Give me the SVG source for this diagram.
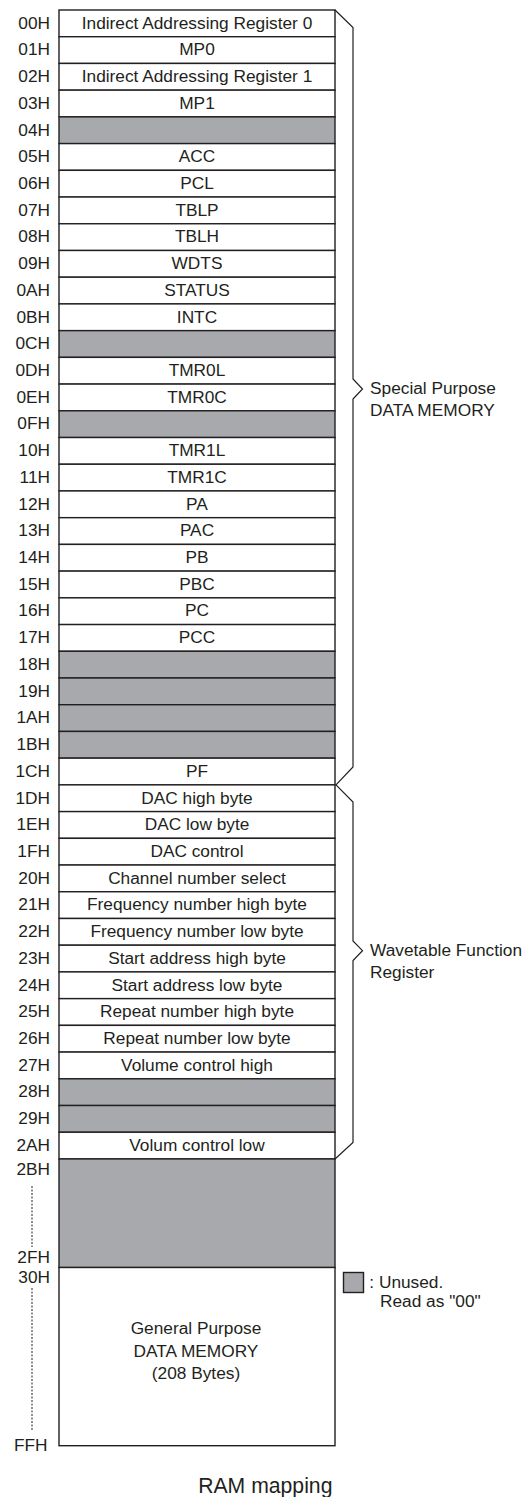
<svg xmlns="http://www.w3.org/2000/svg" width="524" height="1497" viewBox="0 0 524 1497">
<style>
text{font-family:"Liberation Sans",Arial,sans-serif;font-size:17.3px;fill:#231f20}
.c{text-anchor:middle}
.a{text-anchor:end}
.w{fill:#fff;stroke:#231f20;stroke-width:1.4}
.g{fill:#a7a9ac;stroke:#231f20;stroke-width:1.4}
.br{fill:none;stroke:#231f20;stroke-width:1.2;stroke-linejoin:miter}
.dot{stroke:#231f20;stroke-width:1;stroke-dasharray:2,1.5}
.cap{font-size:21.2px}
</style>
<rect width="524" height="1497" fill="#fff"/>
<g id="r00"><rect class="w" x="59" y="10" width="276" height="26.72"/><text class="a" x="50" y="28.6">00H</text><text class="c" x="197" y="28.6">Indirect Addressing Register 0</text></g>
<g id="r01"><rect class="w" x="59" y="36.72" width="276" height="26.72"/><text class="a" x="50" y="55.3">01H</text><text class="c" x="197" y="55.3">MP0</text></g>
<g id="r02"><rect class="w" x="59" y="63.44" width="276" height="26.72"/><text class="a" x="50" y="82.0">02H</text><text class="c" x="197" y="82.0">Indirect Addressing Register 1</text></g>
<g id="r03"><rect class="w" x="59" y="90.16" width="276" height="26.72"/><text class="a" x="50" y="108.8">03H</text><text class="c" x="197" y="108.8">MP1</text></g>
<g id="r04"><rect class="g" x="59" y="116.88" width="276" height="26.72"/><text class="a" x="50" y="135.5">04H</text></g>
<g id="r05"><rect class="w" x="59" y="143.6" width="276" height="26.72"/><text class="a" x="50" y="162.2">05H</text><text class="c" x="197" y="162.2">ACC</text></g>
<g id="r06"><rect class="w" x="59" y="170.32" width="276" height="26.72"/><text class="a" x="50" y="188.9">06H</text><text class="c" x="197" y="188.9">PCL</text></g>
<g id="r07"><rect class="w" x="59" y="197.04" width="276" height="26.72"/><text class="a" x="50" y="215.6">07H</text><text class="c" x="197" y="215.6">TBLP</text></g>
<g id="r08"><rect class="w" x="59" y="223.76" width="276" height="26.72"/><text class="a" x="50" y="242.4">08H</text><text class="c" x="197" y="242.4">TBLH</text></g>
<g id="r09"><rect class="w" x="59" y="250.48" width="276" height="26.72"/><text class="a" x="50" y="269.1">09H</text><text class="c" x="197" y="269.1">WDTS</text></g>
<g id="r0A"><rect class="w" x="59" y="277.2" width="276" height="26.72"/><text class="a" x="50" y="295.8">0AH</text><text class="c" x="197" y="295.8">STATUS</text></g>
<g id="r0B"><rect class="w" x="59" y="303.92" width="276" height="26.72"/><text class="a" x="50" y="322.5">0BH</text><text class="c" x="197" y="322.5">INTC</text></g>
<g id="r0C"><rect class="g" x="59" y="330.64" width="276" height="26.72"/><text class="a" x="50" y="349.2">0CH</text></g>
<g id="r0D"><rect class="w" x="59" y="357.36" width="276" height="26.72"/><text class="a" x="50" y="376.0">0DH</text><text class="c" x="197" y="376.0">TMR0L</text></g>
<g id="r0E"><rect class="w" x="59" y="384.08" width="276" height="26.72"/><text class="a" x="50" y="402.7">0EH</text><text class="c" x="197" y="402.7">TMR0C</text></g>
<g id="r0F"><rect class="g" x="59" y="410.8" width="276" height="26.72"/><text class="a" x="50" y="429.4">0FH</text></g>
<g id="r10"><rect class="w" x="59" y="437.52" width="276" height="26.72"/><text class="a" x="50" y="456.1">10H</text><text class="c" x="197" y="456.1">TMR1L</text></g>
<g id="r11"><rect class="w" x="59" y="464.24" width="276" height="26.72"/><text class="a" x="50" y="482.8">11H</text><text class="c" x="197" y="482.8">TMR1C</text></g>
<g id="r12"><rect class="w" x="59" y="490.96" width="276" height="26.72"/><text class="a" x="50" y="509.6">12H</text><text class="c" x="197" y="509.6">PA</text></g>
<g id="r13"><rect class="w" x="59" y="517.68" width="276" height="26.72"/><text class="a" x="50" y="536.3">13H</text><text class="c" x="197" y="536.3">PAC</text></g>
<g id="r14"><rect class="w" x="59" y="544.4" width="276" height="26.72"/><text class="a" x="50" y="563.0">14H</text><text class="c" x="197" y="563.0">PB</text></g>
<g id="r15"><rect class="w" x="59" y="571.12" width="276" height="26.72"/><text class="a" x="50" y="589.7">15H</text><text class="c" x="197" y="589.7">PBC</text></g>
<g id="r16"><rect class="w" x="59" y="597.84" width="276" height="26.72"/><text class="a" x="50" y="616.4">16H</text><text class="c" x="197" y="616.4">PC</text></g>
<g id="r17"><rect class="w" x="59" y="624.56" width="276" height="26.72"/><text class="a" x="50" y="643.2">17H</text><text class="c" x="197" y="643.2">PCC</text></g>
<g id="r18"><rect class="g" x="59" y="651.28" width="276" height="26.72"/><text class="a" x="50" y="669.9">18H</text></g>
<g id="r19"><rect class="g" x="59" y="678" width="276" height="26.72"/><text class="a" x="50" y="696.6">19H</text></g>
<g id="r1A"><rect class="g" x="59" y="704.72" width="276" height="26.72"/><text class="a" x="50" y="723.3">1AH</text></g>
<g id="r1B"><rect class="g" x="59" y="731.44" width="276" height="26.72"/><text class="a" x="50" y="750.0">1BH</text></g>
<g id="r1C"><rect class="w" x="59" y="758.16" width="276" height="26.72"/><text class="a" x="50" y="776.8">1CH</text><text class="c" x="197" y="776.8">PF</text></g>
<g id="r1D"><rect class="w" x="59" y="784.88" width="276" height="26.72"/><text class="a" x="50" y="803.5">1DH</text><text class="c" x="197" y="803.5">DAC high byte</text></g>
<g id="r1E"><rect class="w" x="59" y="811.6" width="276" height="26.72"/><text class="a" x="50" y="830.2">1EH</text><text class="c" x="197" y="830.2">DAC low byte</text></g>
<g id="r1F"><rect class="w" x="59" y="838.32" width="276" height="26.72"/><text class="a" x="50" y="856.9">1FH</text><text class="c" x="197" y="856.9">DAC control</text></g>
<g id="r20"><rect class="w" x="59" y="865.04" width="276" height="26.72"/><text class="a" x="50" y="883.6">20H</text><text class="c" x="197" y="883.6">Channel number select</text></g>
<g id="r21"><rect class="w" x="59" y="891.76" width="276" height="26.72"/><text class="a" x="50" y="910.4">21H</text><text class="c" x="197" y="910.4">Frequency number high byte</text></g>
<g id="r22"><rect class="w" x="59" y="918.48" width="276" height="26.72"/><text class="a" x="50" y="937.1">22H</text><text class="c" x="197" y="937.1">Frequency number low byte</text></g>
<g id="r23"><rect class="w" x="59" y="945.2" width="276" height="26.72"/><text class="a" x="50" y="963.8">23H</text><text class="c" x="197" y="963.8">Start address high byte</text></g>
<g id="r24"><rect class="w" x="59" y="971.92" width="276" height="26.72"/><text class="a" x="50" y="990.5">24H</text><text class="c" x="197" y="990.5">Start address low byte</text></g>
<g id="r25"><rect class="w" x="59" y="998.64" width="276" height="26.72"/><text class="a" x="50" y="1017.2">25H</text><text class="c" x="197" y="1017.2">Repeat number high byte</text></g>
<g id="r26"><rect class="w" x="59" y="1025.36" width="276" height="26.72"/><text class="a" x="50" y="1044.0">26H</text><text class="c" x="197" y="1044.0">Repeat number low byte</text></g>
<g id="r27"><rect class="w" x="59" y="1052.08" width="276" height="26.72"/><text class="a" x="50" y="1070.7">27H</text><text class="c" x="197" y="1070.7">Volume control high</text></g>
<g id="r28"><rect class="g" x="59" y="1078.8" width="276" height="26.72"/><text class="a" x="50" y="1097.4">28H</text></g>
<g id="r29"><rect class="g" x="59" y="1105.52" width="276" height="26.72"/><text class="a" x="50" y="1124.1">29H</text></g>
<g id="r2A"><rect class="w" x="59" y="1132.24" width="276" height="26.72"/><text class="a" x="50" y="1150.8">2AH</text><text class="c" x="197" y="1150.8">Volum control low</text></g>
<g id="r2B_2F"><rect class="g" x="59" y="1158.96" width="276" height="108.54"/><text class="a" x="50" y="1175">2BH</text><line class="dot" x1="32" y1="1186" x2="32" y2="1247"/><text class="a" x="50" y="1263">2FH</text></g>
<g id="r30_FF"><rect class="w" x="59" y="1267.5" width="276" height="178.2"/><text class="a" x="50" y="1283">30H</text><line class="dot" x1="32" y1="1288" x2="32" y2="1430"/><text class="a" x="47.5" y="1450.7">FFH</text><text class="c" x="196" y="1334.3">General Purpose</text><text class="c" x="196" y="1356.7">DATA MEMORY</text><text class="c" x="196" y="1379">(208 Bytes)</text></g>
<g id="connectors">
<path class="br" d="M335,10 L353,27.5 L353,379 L362.5,389 L353,399 L353,767 L336,784.9"/>
<path class="br" d="M336,784.9 L353,802 L353,941 L362.5,950.7 L353,960.5 L353,1142.5 L335,1159"/>
</g>
<g id="special-label"><text x="370" y="394">Special Purpose</text><text x="370" y="416">DATA MEMORY</text></g>
<g id="wavetable-label"><text x="370" y="956">Wavetable Function</text><text x="370" y="978.3">Register</text></g>
<g id="legend"><rect class="g" x="343.5" y="1272.5" width="20" height="20"/><text x="369.3" y="1287.7">: Unused.</text><text x="380" y="1306.7">Read as "00"</text></g>
<g id="caption"><text class="c cap" x="265.3" y="1493">RAM mapping</text></g>
</svg>
